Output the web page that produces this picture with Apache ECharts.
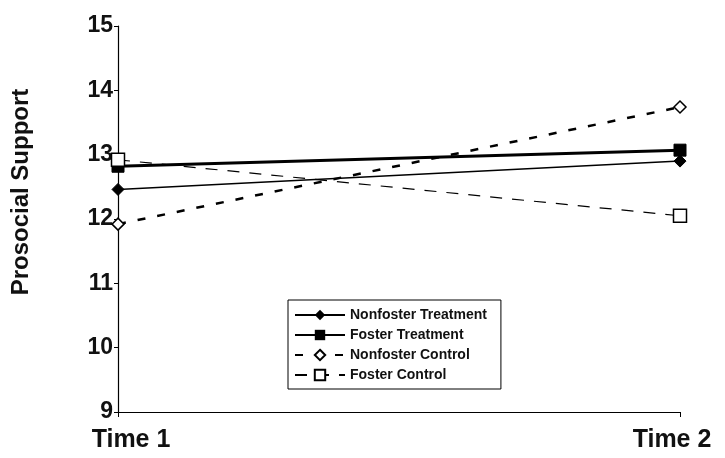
<!DOCTYPE html>
<html><head><meta charset="utf-8">
<script src="https://cdn.jsdelivr.net/npm/echarts@6/dist/echarts.min.js"></script>
<style>html,body{margin:0;padding:0;background:#fff}#c{width:725px;height:458px}</style>
</head><body><div id="c"></div>
<script>
var categories = ['Time 1', 'Time 2'];
var nonfosterTreatment = [12.46, 12.90];
var fosterTreatment = [12.82, 13.07];
var nonfosterControl = [11.92, 13.74];
var fosterControl = [12.92, 12.05];
var yTicks = [9, 10, 11, 12, 13, 14, 15];

var chart = echarts.init(document.getElementById('c'));
var FONT = 'Liberation Sans, Arial, sans-serif';
chart.setOption({
  animation: false,
  backgroundColor: '#fff',
  grid: {left: 118, right: 45, top: 26, bottom: 46},
  xAxis: {
    type: 'category', boundaryGap: false,
    data: [
      {value: categories[0], textStyle: {padding: [0, 0, 0, 26]}},
      {value: categories[1], textStyle: {padding: [0, 0, 0, -16]}}
    ],
    axisLine: {lineStyle: {color: '#000', width: 1.2}},
    axisTick: {show: true, length: 5, inside: false, lineStyle: {color: '#000'}},
    axisLabel: {color: '#111', fontFamily: FONT, fontWeight: 'bold', fontSize: 25, margin: 16},
    splitLine: {show: false}
  },
  yAxis: {
    type: 'value', min: yTicks[0], max: yTicks[yTicks.length - 1], interval: 1,
    axisLine: {show: true, lineStyle: {color: '#000', width: 1.2}},
    axisTick: {show: true, length: 4, lineStyle: {color: '#000'}},
    axisLabel: {color: '#111', fontFamily: FONT, fontWeight: 'bold', fontSize: 23, margin: 5},
    splitLine: {show: false}
  },
  graphic: [{
    type: 'text', x: 21, y: 192, rotation: Math.PI / 2,
    style: {text: 'Prosocial Support', fill: '#111', font: 'bold 24px ' + FONT, textAlign: 'center', textVerticalAlign: 'middle'}
  }],
  legend: {
    orient: 'vertical', left: 288, top: 300, width: 215,
    backgroundColor: '#fff', borderColor: '#000', borderWidth: 1,
    padding: [8, 14, 7, 6], itemGap: 6, itemWidth: 50, itemHeight: 13,
    textStyle: {color: '#111', fontFamily: FONT, fontWeight: 'bold', fontSize: 14},
    data: ['Nonfoster Treatment', 'Foster Treatment', 'Nonfoster Control', 'Foster Control']
  },
  series: [
    {name: 'Nonfoster Treatment', type: 'line', data: nonfosterTreatment,
      symbol: 'diamond', symbolSize: 12,
      lineStyle: {color: '#000', width: 1.5},
      itemStyle: {color: '#000', borderColor: '#000'}},
    {name: 'Foster Treatment', type: 'line', data: fosterTreatment,
      symbol: 'rect', symbolSize: 12,
      lineStyle: {color: '#000', width: 3},
      itemStyle: {color: '#000', borderColor: '#000'}},
    {name: 'Nonfoster Control', type: 'line', data: nonfosterControl,
      symbol: 'diamond', symbolSize: 12,
      lineStyle: {color: '#000', width: 2.5, type: [8, 12]},
      itemStyle: {color: '#fff', borderColor: '#000', borderWidth: 1.5}},
    {name: 'Foster Control', type: 'line', data: fosterControl,
      symbol: 'rect', symbolSize: 13,
      lineStyle: {color: '#000', width: 1.2, type: [12, 10]},
      itemStyle: {color: '#fff', borderColor: '#000', borderWidth: 1.5}}
  ]
});
</script></body></html>
